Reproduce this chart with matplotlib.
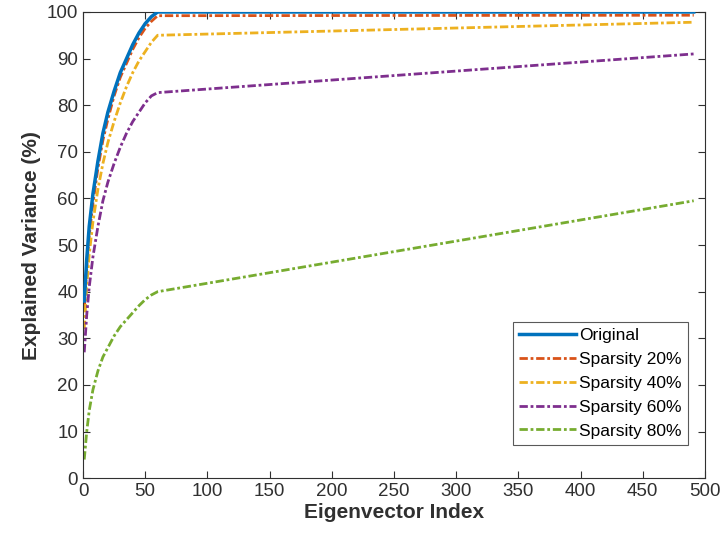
import numpy as np
import matplotlib.pyplot as plt

plt.rcParams['font.family'] = ['Liberation Sans', 'DejaVu Sans']

# eigenvector index samples
idx = [1, 3, 5, 8, 12, 16, 20, 25, 30, 35, 40, 45, 50, 55, 60, 491]

original = [38, 47, 54, 61, 68, 74, 78.5, 83, 87, 90, 93, 95.5, 97.5, 99, 100, 100]
sp20 = [36, 45, 52, 59, 66.5, 72.5, 77, 82, 86, 89, 92, 94.5, 96.5, 98, 99.2, 99.3]
sp40 = [32, 41, 48, 55, 62, 67.5, 72, 76.5, 80.5, 84, 87, 89.5, 91.5, 93.5, 95, 97.8]
sp60 = [27, 35, 41, 47.5, 54, 59.5, 63.5, 67.5, 71, 74, 76.5, 78.5, 80.5, 82, 82.7, 91]
sp80 = [4, 10, 14.5, 19, 23, 26, 28, 30.5, 32.5, 34, 35.5, 37, 38.3, 39.3, 40, 59.5]

labels = ['Original', 'Sparsity 20%', 'Sparsity 40%', 'Sparsity 60%', 'Sparsity 80%']
colors = ['#0072BD', '#D95319', '#EDB120', '#7E2F8E', '#77AC30']

fig = plt.figure(figsize=(7.23, 5.44), dpi=100)
ax = fig.add_axes([0.1148, 0.121, 0.8602, 0.857])

series = [original, sp20, sp40, sp60, sp80]
for i, (ys, lab, c) in enumerate(zip(series, labels, colors)):
    if i == 0:
        ax.plot(idx, ys, color=c, lw=2.5, ls='-', label=lab, zorder=5)
    else:
        ax.plot(idx, ys, color=c, lw=2, ls=(0, (3, 1, 1, 1)), label=lab)

ax.set_xlim(0, 500)
ax.set_ylim(0, 100)
ax.set_xticks(np.arange(0, 501, 50))
ax.set_yticks(np.arange(0, 101, 10))
ax.tick_params(direction='in', top=True, right=True, labelsize=13.5,
               colors='#303030', length=5, width=0.8)
for s in ax.spines.values():
    s.set_color('#303030')
    s.set_linewidth(0.8)

ax.set_xlabel('Eigenvector Index', fontsize=15, fontweight='bold', labelpad=2, color='#303030')
ax.set_ylabel('Explained Variance (%)', fontsize=15, fontweight='bold', labelpad=4, color='#303030')

leg = ax.legend(loc='lower right', bbox_to_anchor=(0.972, 0.072), fontsize=12.5,
                frameon=True, fancybox=False, edgecolor='#303030',
                handlelength=3.3, handletextpad=0.15, borderpad=0.35,
                labelspacing=0.5, borderaxespad=0)
leg.get_frame().set_linewidth(0.8)

fig.savefig('out.png', dpi=100)
